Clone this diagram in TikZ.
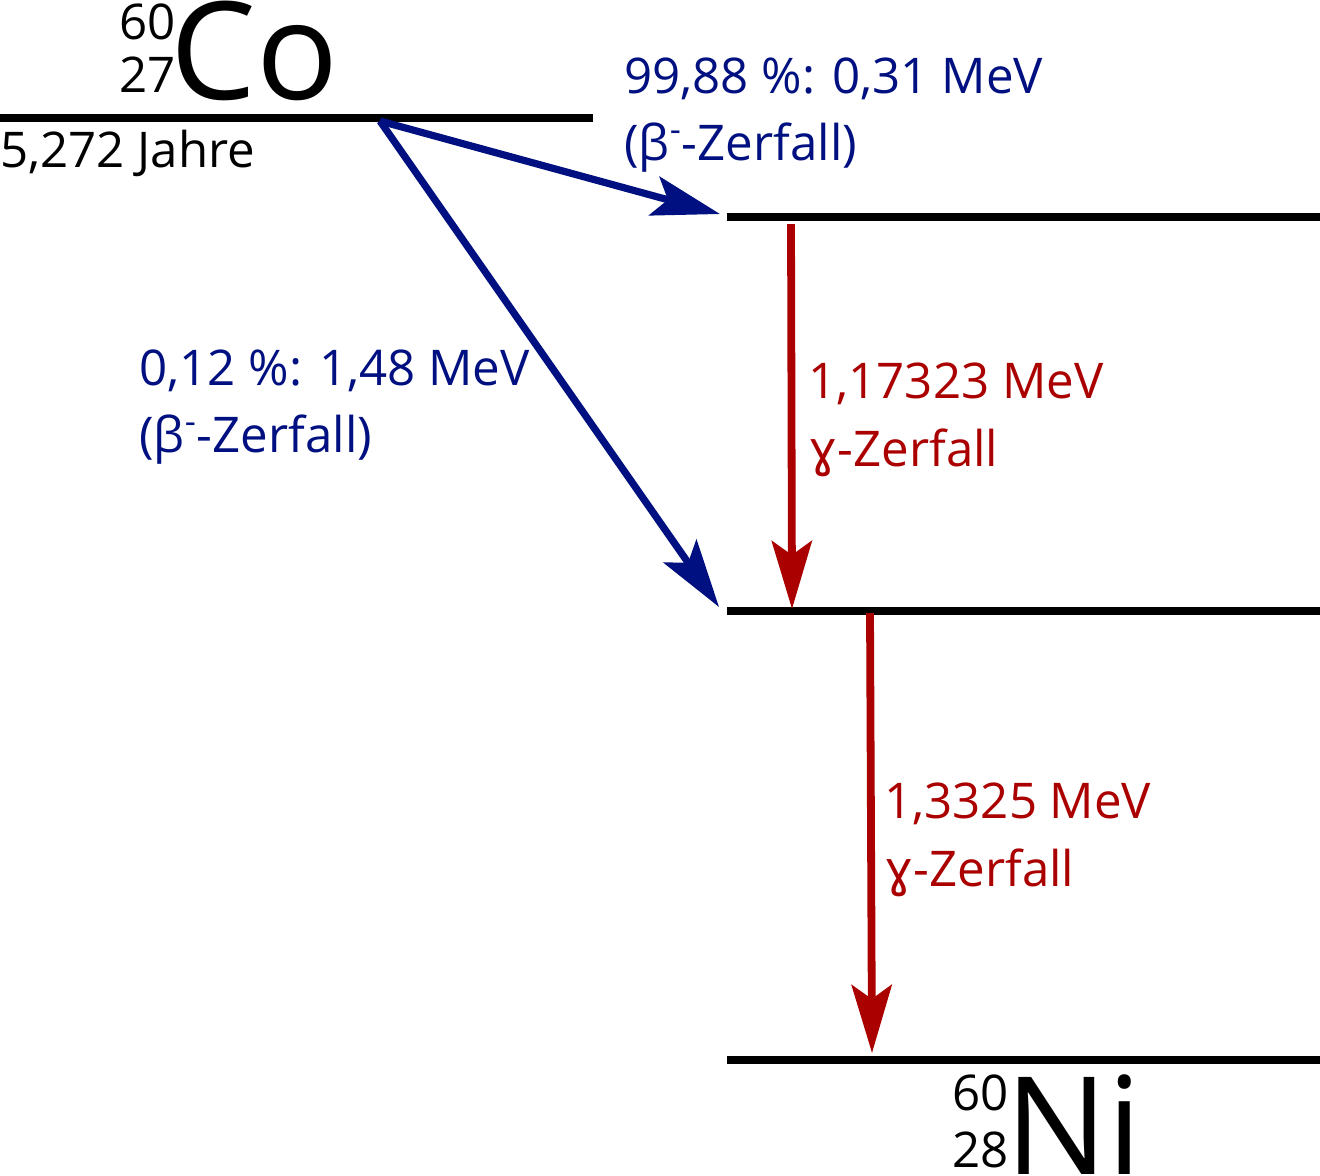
\documentclass[tikz,border=0pt]{standalone}
\usepackage{fontspec}
\setmainfont{Open Sans}
\newfontfamily\gamfont{DejaVu Sans}
\usetikzlibrary{arrows.meta}
\definecolor{betablue}{RGB}{0,16,128}
\definecolor{gammared}{RGB}{170,0,0}
\newcommand{\betaminus}{β\textsuperscript{-}}
\newcommand{\gammasym}{{\gamfont ɣ}}
\begin{document}
\begin{tikzpicture}[x=0.5pt,y=-0.5pt,
  level/.style={line width=3.8pt, draw=black},
  betaarrow/.style={line width=3.6pt, draw=betablue, -{Stealth[length=34pt,width=20pt,inset=7pt]}},
  gammaarrow/.style={line width=3.9pt, draw=gammared, -{Stealth[length=34pt,width=20pt,inset=7pt]}},
  txt/.style={anchor=base west, inner sep=0pt, font=\fontsize{24.6}{28}\selectfont},
  bigtxt/.style={anchor=base west, inner sep=0pt, font=\fontsize{68}{80}\selectfont},
]
\useasboundingbox (0,0) rectangle (1320,1175);
% levels
\coordinate (coL) at (0,118);   \coordinate (coR) at (593,118);
\coordinate (aL) at (727,217);  \coordinate (aR) at (1320,217);
\coordinate (bL) at (727,611);  \coordinate (bR) at (1320,611);
\coordinate (niL) at (727,1060); \coordinate (niR) at (1320,1060);
\draw[level] (coL) -- (coR);
\draw[level] (aL) -- (aR);
\draw[level] (bL) -- (bR);
\draw[level] (niL) -- (niR);
% arrow ends
\coordinate (s1) at (380,121);
\coordinate (t1) at (720,214);
\coordinate (t2) at (719,607);
\coordinate (g1s) at (791,224);
\coordinate (g1t) at (792,609);
\coordinate (g2s) at (870,613);
\coordinate (g2t) at (872,1053);
\draw[betaarrow] (s1) -- (t1);
\draw[betaarrow] (s1) -- (t2);
\draw[gammaarrow] (g1s) -- (g1t);
\draw[gammaarrow] (g2s) -- (g2t);
% Co label
\node[txt] (coA) at (119,39) {60};
\node[txt] (coZ) at (119,92) {27};
\node[bigtxt] (co) at (170,99) {Co};
\node[txt] (half) at (0,167) {5,272 Jahre};
% Ni label
\node[txt] (niA) at (952,1110) {60};
\node[txt] (niZ) at (952,1167) {28};
\node[bigtxt] (ni) at (1005,1174) {Ni};
% beta labels
\node[txt, text=betablue] (b1a) at (624,93) {99,88 \%: 0,31 MeV};
\node[txt, text=betablue] (b1b) at (624,160) {(\betaminus-Zerfall)};
\node[txt, text=betablue] (b2a) at (139,385) {0,12 \%: 1,48 MeV};
\node[txt, text=betablue] (b2b) at (139,452) {(\betaminus-Zerfall)};
% gamma labels
\node[txt, text=gammared] (g1a) at (808,398) {1,17323 MeV};
\node[txt, text=gammared] (g1b) at (808,466) {\gammasym-Zerfall};
\node[txt, text=gammared] (g2a) at (884,818) {1,3325 MeV};
\node[txt, text=gammared] (g2b) at (884,886) {\gammasym-Zerfall};
\end{tikzpicture}
\end{document}
